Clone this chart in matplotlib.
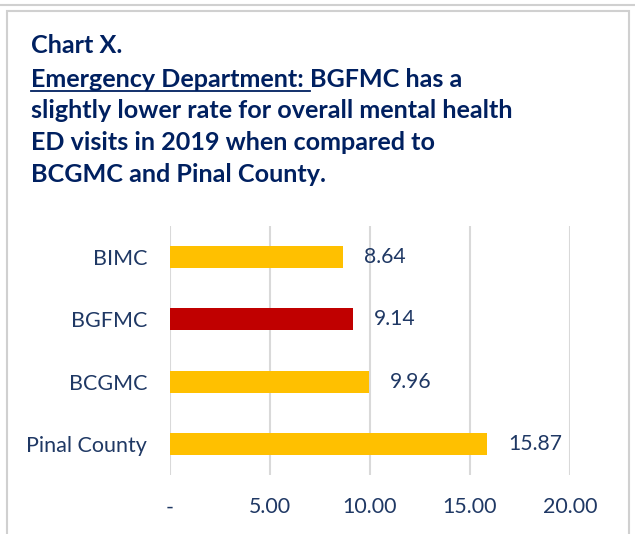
import matplotlib.pyplot as plt
from matplotlib.lines import Line2D
from matplotlib.patches import Rectangle

# data
categories = ["BIMC", "BGFMC", "BCGMC", "Pinal County"]
rates = [8.64, 9.14, 9.96, 15.87]
bar_colors = ["#FFC000", "#C00000", "#FFC000", "#FFC000"]
xticks = [0, 5, 10, 15, 20]
xtick_labels = ["-", "5.00", "10.00", "15.00", "20.00"]

navy = "#1F3864"
title_col = "#002060"
plt.rcParams['font.family'] = ['Lato', 'DejaVu Sans']

W, H = 635, 534
fig = plt.figure(figsize=(W / 100, H / 100), dpi=100)

# outer frame lines
fig.add_artist(Line2D([0, 1], [1 - 5 / H, 1 - 5 / H], color="#D0D0D0", lw=1.5))
fig.add_artist(Rectangle((7 / W, -0.01), (629 - 7) / W, 1 - 11 / H + 0.01,
                         fill=False, ec="#D0D0D0", lw=1.5, transform=fig.transFigure))

ax = fig.add_axes([170 / W, (H - 475) / H, 400 / W, 249 / H])
ypos = list(range(len(categories)))
ax.barh(ypos, rates, height=0.35, color=bar_colors, zorder=2)
ax.set_xlim(0, 20)
ax.set_ylim(len(categories) - 0.5, -0.5)
ax.set_yticks(ypos)
ax.set_yticklabels(categories, fontsize=15.5, color=navy)
ax.set_xticks(xticks)
ax.set_xticklabels(xtick_labels, fontsize=15.4, color=navy)
ax.tick_params(axis="y", length=0, pad=16.5)
ax.tick_params(axis="x", length=0, pad=16)
ax.grid(axis="x", color="#D9D9D9", lw=1.5, zorder=0)
for s in ax.spines.values():
    s.set_visible(False)

for y, v in zip(ypos, rates):
    ax.annotate(f"{v:.2f}", (v, y), xytext=(15, 0), textcoords="offset points",
                va="center", ha="left", fontsize=15.2, color=navy)

# title
fs = 18.1
x0 = 31 / W
lines_y = [53, 87, 118, 150, 182]
fig.text(x0, 1 - lines_y[0] / H, "Chart X.", fontsize=fs, weight="bold", color=title_col, va="baseline")
t1 = fig.text(x0, 1 - lines_y[1] / H, "Emergency Department: ", fontsize=fs, weight="bold",
              color=title_col, va="baseline")
fig.canvas.draw()
bb = t1.get_window_extent(fig.canvas.get_renderer())
x1 = bb.x1 / W
fig.add_artist(Line2D([x0, x1], [1 - 91 / H, 1 - 91 / H], color=title_col, lw=1.3))
fig.text(x1, 1 - lines_y[1] / H, "BGFMC has a", fontsize=fs, weight="bold", color=title_col, va="baseline")
rest = ["slightly lower rate for overall mental health",
        "ED visits in 2019 when compared to",
        "BCGMC and Pinal County."]
for y, s in zip(lines_y[2:], rest):
    fig.text(x0, 1 - y / H, s, fontsize=fs, weight="bold", color=title_col, va="baseline")

fig.savefig("out.png", dpi=100)
